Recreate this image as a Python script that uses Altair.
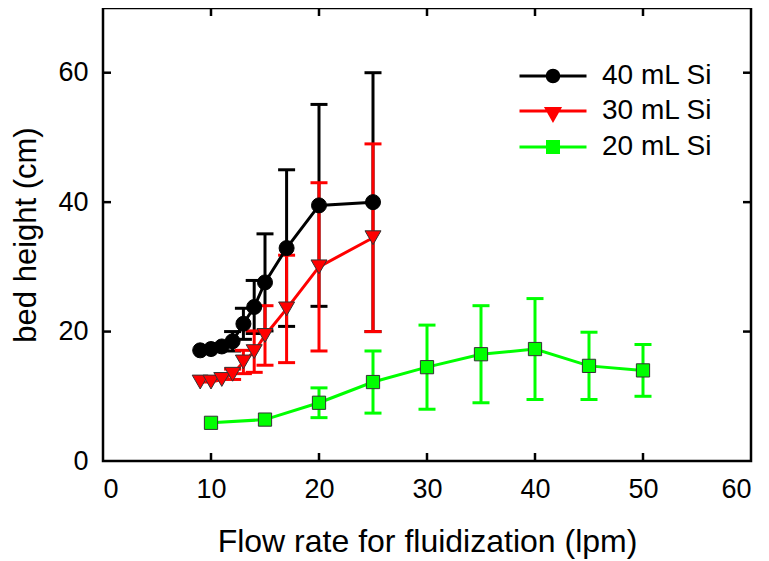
import altair as alt
import pandas as pd

FONT = "Liberation Sans"

# ---- data ----
series_names = ["40 mL Si", "30 mL Si", "20 mL Si"]
series_colors = ["#000000", "#ff0000", "#00ff00"]

flow_40 = [9, 10, 11, 12, 13, 14, 15, 17, 20, 25]
height_40 = [17.1, 17.3, 17.7, 18.5, 21.2, 23.8, 27.6, 32.9, 39.5, 40.0]
err_40 = [0, 0, 0, 1.5, 2.4, 4.1, 7.5, 12.1, 15.6, 20.0]

flow_30 = [9, 10, 11, 12, 13, 14, 15, 17, 20, 25]
height_30 = [12.2, 12.2, 12.6, 13.4, 15.3, 16.9, 19.4, 23.5, 30.0, 34.5]
err_30 = [0, 0, 0, 0.8, 1.8, 3.2, 4.6, 8.3, 13.0, 14.5]

flow_20 = [10, 15, 20, 25, 30, 35, 40, 45, 50]
height_20 = [5.9, 6.4, 9.0, 12.2, 14.5, 16.5, 17.3, 14.7, 14.0]
err_20 = [0, 0, 2.3, 4.8, 6.5, 7.5, 7.8, 5.2, 4.0]

x_tick_labels = [0, 10, 20, 30, 40, 50, 60]
y_tick_labels = [0, 20, 40, 60]
x_inner_ticks = [10, 20, 30, 40, 50]
y_inner_ticks = [20, 40, 60]

# ---- styling ----
marker_shapes = ["circle", "triangle-down", "square"]
marker_outlines = ["#000000", "#333333", "#333333"]
marker_sizes = [225, 256, 175]
legend_paths = [
    "M-3.35,0L3.35,0M0.58,0A0.58,0.58,0,1,1,-0.58,0A0.58,0.58,0,1,1,0.58,0Z",
    "M-3.35,0L3.35,0M-0.65,-0.25L0.65,-0.25L0,0.9Z",
    "M-3.35,0L3.35,0M-0.55,-0.55L0.55,-0.55L0.55,0.55L-0.55,0.55Z",
]

rows = []
for name, xs_, ys_, es_ in zip(series_names,
                               [flow_40, flow_30, flow_20],
                               [height_40, height_30, height_20],
                               [err_40, err_30, err_20]):
    for x, y, e in zip(xs_, ys_, es_):
        rows.append({"series": name, "flow": x, "height": y, "err": e,
                     "lo": y - e, "hi": y + e})
df = pd.DataFrame(rows)

W, H = 648, 453
xscale = alt.Scale(domain=[0, 60], nice=False, zero=False)
yscale = alt.Scale(domain=[0, 70], nice=False, zero=False)

x_axis = alt.Axis(values=x_tick_labels, format="d", title="Flow rate for fluidization (lpm)",
                  titleFont=FONT, titleFontSize=32, titleFontWeight="normal", titleColor="black",
                  titleBaseline="alphabetic", titleY=90,
                  labelFont=FONT, labelFontSize=27, labelColor="black", labelPadding=15,
                  ticks=False, tickSize=0, domain=False, grid=False)
y_axis = alt.Axis(values=y_tick_labels, format="d", title="bed height (cm)",
                  titleFont=FONT, titleFontSize=31, titleFontWeight="normal", titleColor="black",
                  titleBaseline="alphabetic", titleX=-68,
                  labelFont=FONT, labelFontSize=27, labelColor="black", labelPadding=15,
                  ticks=False, tickSize=0, domain=False, grid=False)


def X(field="flow"):
    return alt.X(f"{field}:Q", scale=xscale, axis=x_axis)


def Y(field="height"):
    return alt.Y(f"{field}:Q", scale=yscale, axis=y_axis)


layers = []
# error bars
for name, color in zip(series_names, series_colors):
    sub = df[(df.series == name) & (df.err > 0)]
    c = alt.Chart(sub)
    layers.append(c.mark_rule(strokeWidth=3, color=color).encode(x=X(), y=Y("lo"), y2="hi:Q"))
    for fld in ["lo", "hi"]:
        layers.append(
            c.mark_tick(orient="horizontal", size=17, thickness=3, color=color, opacity=1).encode(
                x=X(), y=Y(fld)))

# lines and markers
for name, color, shp, outl, sz in zip(series_names, series_colors, marker_shapes,
                                      marker_outlines, marker_sizes):
    sub = df[df.series == name]
    c = alt.Chart(sub)
    layers.append(c.mark_line(color=color, strokeWidth=3).encode(x=X(), y=Y()))
    layers.append(c.mark_point(filled=True, shape=shp, size=sz, fill=color, stroke=outl,
                               strokeWidth=1, opacity=1).encode(x=X(), y=Y()))

# inward ticks on all four sides
xt = pd.DataFrame({"flow": x_inner_ticks})
yt = pd.DataFrame({"height": y_inner_ticks})
layers.append(alt.Chart(xt).mark_rule(color="black", strokeWidth=2.5).encode(
    x=X(), y=alt.value(H), y2=alt.value(H - 8)))
layers.append(alt.Chart(xt).mark_rule(color="black", strokeWidth=2.5).encode(
    x=X(), y=alt.value(0), y2=alt.value(8)))
layers.append(alt.Chart(yt).mark_rule(color="black", strokeWidth=2.5).encode(
    y=Y(), x=alt.value(0), x2=alt.value(8)))
layers.append(alt.Chart(yt).mark_rule(color="black", strokeWidth=2.5).encode(
    y=Y(), x=alt.value(W), x2=alt.value(W - 8)))

# legend carrier (no visible data marks, legend only)
leg = alt.Legend(title=None, orient="none", legendX=436, legendY=54,
                 symbolSize=400, symbolStrokeWidth=3, labelFont=FONT, labelFontSize=28,
                 labelColor="black", labelOffset=35, rowPadding=7, padding=0)
layers.append(
    alt.Chart(df).transform_filter("datum.height < -1000").mark_point(
        filled=True, size=400, strokeWidth=3, opacity=1).encode(
        x=X(), y=Y(),
        shape=alt.Shape("series:N", scale=alt.Scale(domain=series_names, range=legend_paths), legend=leg),
        fill=alt.Fill("series:N", scale=alt.Scale(domain=series_names, range=series_colors), legend=leg),
        stroke=alt.Stroke("series:N", scale=alt.Scale(domain=series_names, range=series_colors), legend=leg),
    )
)

chart = alt.layer(*layers).properties(
    width=W, height=H,
    autosize=alt.AutoSizeParams(type="none"),
    padding={"left": 95, "top": 0, "right": 10, "bottom": 100},
    background="white",
).configure_view(stroke="black", strokeWidth=2.5)

chart.save("out.html", embed_options={"renderer": "svg", "actions": False})
